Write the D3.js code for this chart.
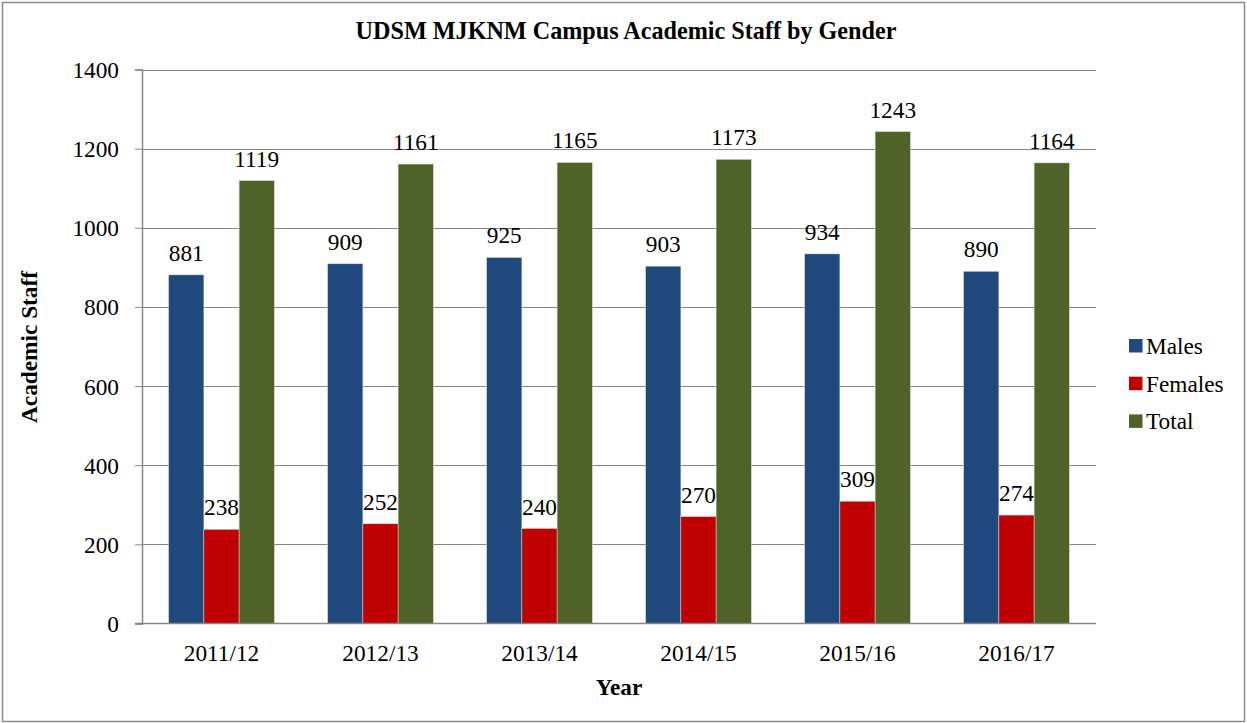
<!DOCTYPE html>
<html><head><meta charset="utf-8">
<script src="https://cdn.jsdelivr.net/npm/d3@7"></script>
<style>body{margin:0;background:#fff}svg{display:block}text{font-family:"Liberation Serif","Times New Roman",serif;fill:#000}</style>
</head><body>
<svg id="c" width="1247" height="723"></svg>
<script>
const categories = ["2011/12","2012/13","2013/14","2014/15","2015/16","2016/17"];
const seriesNames = ["Males","Females","Total"];
const males = [881,909,925,903,934,890];
const females = [238,252,240,270,309,274];
const total = [1119,1161,1165,1173,1243,1164];
const yTicks = [0,200,400,600,800,1000,1200,1400];
const colors = ["#1F497D","#C00000","#4F6228"];
const seriesValues = [males, females, total];
const FS = 23.3;
const FF = '"Liberation Serif","Times New Roman",serif';

const svg = d3.select("#c");
svg.append("rect").attr("x",2.5).attr("y",2.5).attr("width",1242).attr("height",719).attr("fill","#fff").attr("stroke","#8c8c8c").attr("stroke-width",1.5);

const L=142, R=1096, T=69.5, B=623.5;
const x = d3.scaleBand().domain(categories).range([L,R]).paddingInner(0.335).paddingOuter(0.1675);
const xs = d3.scaleBand().domain(seriesNames).range([0,x.bandwidth()]);
const y = d3.scaleLinear().domain([0,1400]).range([B,T]);

// gridlines
svg.append("g").selectAll("line").data(yTicks.filter(d=>d>0)).join("line")
  .attr("x1",L).attr("x2",R).attr("y1",d=>Math.round(y(d))+0.5).attr("y2",d=>Math.round(y(d))+0.5)
  .attr("stroke","#868686").attr("stroke-width",1);

// bars
const g = svg.append("g");
seriesNames.forEach((s,si)=>{
  g.selectAll(".b"+si).data(categories).join("rect")
    .attr("x",c=>x(c)+xs(s)).attr("width",xs.bandwidth())
    .attr("y",(c,i)=>y(seriesValues[si][i])).attr("height",(c,i)=>B-y(seriesValues[si][i]))
    .attr("fill",colors[si]).attr("stroke","#d9d9d9").attr("stroke-width",0.5);
  g.selectAll(".t"+si).data(categories).join("text")
    .attr("x",c=>x(c)+xs(s)+xs.bandwidth()/2).attr("y",(c,i)=>y(seriesValues[si][i])-14)
    .attr("text-anchor","middle").attr("font-size",FS).text((c,i)=>seriesValues[si][i]);
});

// y axis
const ya = svg.append("g").attr("transform",`translate(${L},0)`)
  .call(d3.axisLeft(y).tickValues(yTicks).tickFormat(d3.format("d")).tickSize(7).tickPadding(16));
ya.select(".domain").attr("stroke","#868686").attr("stroke-width",1.5);
ya.selectAll(".tick line").attr("stroke","#868686");
ya.selectAll(".tick text").attr("font-size",FS).attr("font-family",FF).attr("fill","#000").attr("dy","0.34em");

// x axis
const xa = svg.append("g").attr("transform",`translate(0,${B})`).call(d3.axisBottom(x).tickSize(0).tickPadding(21));
xa.select(".domain").remove();
xa.selectAll(".tick text").attr("font-size",FS).attr("font-family",FF).attr("fill","#000");
svg.append("line").attr("x1",L-7).attr("x2",R).attr("y1",B).attr("y2",B).attr("stroke","#868686").attr("stroke-width",1.5);

// titles
const title = svg.append("text").attr("x",626).attr("y",39).attr("text-anchor","middle").attr("font-size",21).attr("font-weight","bold").text("UDSM MJKNM Campus Academic Staff by Gender");
const tw = title.node().getComputedTextLength();
title.attr("font-size", 21*541/tw);
svg.append("text").attr("x",619).attr("y",695).attr("text-anchor","middle").attr("font-size",FS).attr("font-weight","bold").text("Year");
svg.append("text").attr("transform","translate(37,347) rotate(-90)").attr("text-anchor","middle").attr("font-size",FS).attr("font-weight","bold").text("Academic Staff");

// legend
const lg = svg.append("g");
seriesNames.forEach((s,i)=>{
  const cy = 346 + i*37.7;
  lg.append("rect").attr("x",1129).attr("y",cy-7).attr("width",13.5).attr("height",13.5).attr("fill",colors[i]);
  lg.append("text").attr("x",1146).attr("y",cy+8).attr("font-size",FS).text(s);
});
</script>
</body></html>
